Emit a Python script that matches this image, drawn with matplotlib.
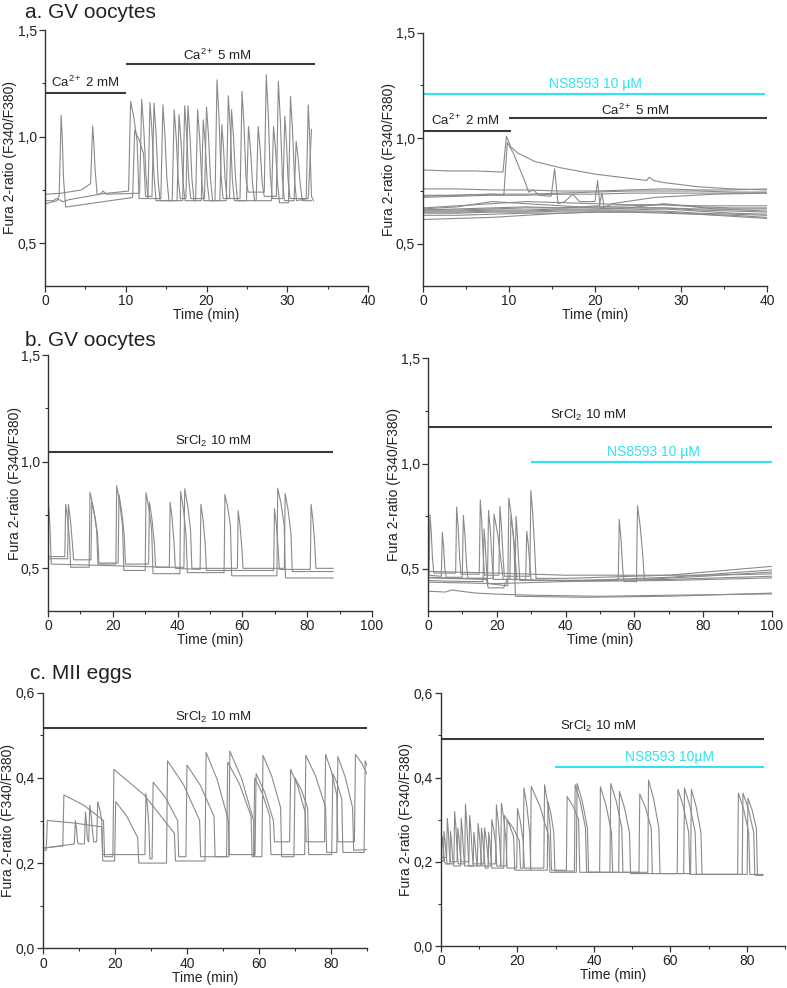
import matplotlib
matplotlib.use("Agg")
import matplotlib.pyplot as plt
from matplotlib.ticker import MultipleLocator, FuncFormatter

plt.rcParams["font.family"] = ["Liberation Sans", "DejaVu Sans"]
plt.rcParams["mathtext.fontset"] = "custom"
plt.rcParams["mathtext.rm"] = "Liberation Sans"
plt.rcParams["mathtext.it"] = "Liberation Sans:italic"

TRACE_C = "#8a8a8a"
BAR_C = "#3a3a3a"
CYAN = "#2de4f0"

# ---------------------------------------------------------------------------
# data
# each event: (peak time, peak value, time before drop, value before drop)
# base: resting level between events (tuple = start, end of that stretch)
# ---------------------------------------------------------------------------

# a. GV oocytes, left (Ca2+ 2 mM -> 5 mM)
al_A_lead = [(0, 0.73), (2.0, 0.735), (4.5, 0.75)]
al_A_ev = [(5.9, 1.05, 6.2, 0.85), (10.6, 1.165, 11.4, 0.98), (13.0, 1.16, 13.5, 0.82),
           (16.0, 1.126, 16.5, 0.80), (17.7, 1.145, 18.2, 0.80), (18.9, 1.126, 19.4, 0.80),
           (21.3, 1.266, 21.8, 0.82), (24.4, 1.212, 24.9, 0.80), (27.4, 1.29, 27.9, 0.82),
           (29.7, 1.095, 30.1, 0.80), (32.6, 1.149, 33.0, 0.72)]
al_A_base = [0.78, (0.73, 0.745), 0.71, 0.70, 0.71, 0.70, 0.70, 0.71, 0.74, 0.71, 0.71, 0.70]
al_A_tail = []

al_B_lead = [(0, 0.685), (1.5, 0.70)]
al_B_ev = [(2.0, 1.10, 2.3, 0.80), (11.1, 1.03, 12.2, 0.92), (13.5, 1.157, 14.0, 0.80),
           (16.6, 1.103, 17.1, 0.78), (19.6, 1.079, 20.1, 0.78), (22.7, 1.192, 23.2, 0.80),
           (25.2, 1.048, 25.7, 0.78), (28.3, 1.048, 28.8, 0.78), (30.4, 1.189, 30.9, 0.80)]
al_B_base = [0.72, (0.67, 0.715), 0.72, 0.70, 0.70, 0.70, 0.70, 0.70, 0.69, 0.70]
al_B_tail = [(32.6, 0.71), (33.0, 1.033)]

al_C_lead = [(0, 0.70), (1.0, 0.70), (1.5, 0.71), (2.2, 0.695), (3.0, 0.705),
             (6.8, 0.73), (7.2, 0.745), (7.6, 0.73)]
al_C_ev = [(11.97, 1.176, 12.5, 0.82), (14.6, 1.149, 15.1, 0.80), (17.3, 1.145, 17.8, 0.80),
           (20.0, 1.139, 20.5, 0.80), (21.9, 1.056, 22.3, 0.80), (23.1, 1.126, 23.6, 0.80),
           (26.4, 1.048, 26.9, 0.78), (28.9, 1.259, 29.4, 0.80), (31.1, 0.978, 31.6, 0.78)]
al_C_base = [0.735, 0.71, 0.70, 0.71, 0.70, 0.71, 0.70, 0.72, 0.70, 0.70]
al_C_tail = [(33.0, 0.70)]

# a. GV oocytes, right (NS8593 10 uM)
ar_grid = [0, 4, 8, 12, 16, 20, 24, 28, 32, 36, 40]
ar_flat = [
    [0.76, 0.76, 0.755, 0.755, 0.75, 0.75, 0.755, 0.76, 0.755, 0.755, 0.76],
    [0.72, 0.725, 0.73, 0.73, 0.735, 0.735, 0.74, 0.74, 0.74, 0.74, 0.74],
    [0.73, 0.73, 0.735, 0.735, 0.74, 0.745, 0.75, 0.75, 0.75, 0.745, 0.745],
    [0.665, 0.675, 0.70, 0.69, 0.68, 0.67, 0.67, 0.67, 0.665, 0.665, 0.665],
    [0.66, 0.66, 0.665, 0.67, 0.67, 0.675, 0.68, 0.685, 0.675, 0.67, 0.67],
    [0.655, 0.655, 0.66, 0.66, 0.665, 0.665, 0.67, 0.67, 0.66, 0.655, 0.65],
    [0.65, 0.65, 0.655, 0.655, 0.66, 0.66, 0.66, 0.665, 0.655, 0.645, 0.64],
    [0.645, 0.645, 0.65, 0.65, 0.655, 0.655, 0.655, 0.655, 0.645, 0.64, 0.635],
    [0.635, 0.635, 0.64, 0.645, 0.645, 0.65, 0.65, 0.65, 0.64, 0.635, 0.625],
    [0.615, 0.62, 0.625, 0.635, 0.645, 0.65, 0.65, 0.645, 0.64, 0.63, 0.62],
    [0.67, 0.68, 0.69, 0.70, 0.695, 0.69, 0.685, 0.685, 0.68, 0.68, 0.68],
]
ar_s1_t = [0, 3, 6, 9.3, 9.7, 10.2, 11, 13, 16, 20, 24, 26, 26.3, 26.8, 28, 32, 36, 40]
ar_s1_v = [0.85, 0.845, 0.845, 0.84, 1.01, 0.96, 0.93, 0.89, 0.86, 0.83, 0.81, 0.80,
           0.815, 0.80, 0.79, 0.77, 0.76, 0.755]
ar_s2_t = [0, 4, 8, 9.4, 9.8, 10.5, 11.8, 12.3, 12.8, 13.5, 14.9, 15.3, 15.7, 16.5,
           17.4, 18.2, 20.0, 20.3, 20.6, 22, 27, 34, 40]
ar_s2_v = [0.725, 0.73, 0.735, 0.73, 0.98, 0.93, 0.80, 0.745, 0.755, 0.73, 0.725, 0.855,
           0.69, 0.70, 0.735, 0.70, 0.70, 0.80, 0.665, 0.69, 0.72, 0.735, 0.74]
ar_s3_t = [0, 8, 12, 16, 20.5, 20.8, 21.1, 24, 28, 34, 40]
ar_s3_v = [0.66, 0.67, 0.675, 0.67, 0.68, 0.74, 0.665, 0.67, 0.69, 0.665, 0.655]

# b. GV oocytes, left (SrCl2 10 mM)
bl_X_lead = [(0, 0.555)]
bl_X_ev = [(5.45, 0.80, 6.6, 0.64), (12.96, 0.857, 15.0, 0.68), (21.2, 0.888, 23.0, 0.70),
           (30.25, 0.854, 32.0, 0.68), (40.95, 0.86, 42.6, 0.66), (54.6, 0.846, 56.3, 0.70),
           (70.9, 0.876, 72.9, 0.70)]
bl_X_base = [0.555, 0.505, 0.52, 0.49, 0.475, 0.48, 0.465, 0.455]
bl_X_tail = [(88, 0.455)]

bl_Y_lead = [(0, 0.545)]
bl_Y_ev = [(6.3, 0.80, 7.5, 0.62), (13.5, 0.81, 15.3, 0.66), (21.9, 0.846, 23.5, 0.66),
           (31.3, 0.81, 32.8, 0.62), (42.2, 0.873, 44.0, 0.68), (58.7, 0.77, 59.8, 0.60),
           (73.2, 0.85, 75.0, 0.66)]
bl_Y_base = [0.545, 0.54, 0.525, 0.52, 0.505, 0.50, 0.50, 0.485]
bl_Y_tail = [(88, 0.485)]

bl_Z_lead = []
bl_Z_ev = [(0.0, 0.82, 0.6, 0.70), (37.7, 0.81, 38.9, 0.62), (47.2, 0.80, 48.5, 0.62),
           (69.9, 0.78, 71.0, 0.60), (81.2, 0.80, 82.3, 0.62)]
bl_Z_base = [0.80, (0.52, 0.505), (0.50, 0.495), 0.49, 0.495, 0.50]
bl_Z_tail = [(88, 0.50)]

# b. GV oocytes, right (SrCl2 + NS8593)
br_T1_lead = [(0, 0.475)]
br_T1_ev = [(0.58, 0.757, 1.3, 0.55), (8.33, 0.794, 9.2, 0.55), (15.2, 0.828, 16.0, 0.58),
            (20.9, 0.796, 21.8, 0.56), (29.9, 0.872, 31.0, 0.60)]
br_T1_base = [0.475, 0.48, 0.475, 0.47, 0.465, 0.455]
br_T1_tail = [(40, 0.455), (70, 0.47), (100, 0.512)]

br_T2_lead = [(0, 0.47)]
br_T2_ev = [(4.17, 0.673, 4.9, 0.50), (10.27, 0.754, 11.2, 0.52), (17.6, 0.778, 18.6, 0.55),
            (24.1, 0.752, 25.4, 0.55), (28.7, 0.678, 29.6, 0.52)]
br_T2_base = [0.465, 0.46, 0.455, 0.45, 0.45, 0.445]
br_T2_tail = [(45, 0.445), (70, 0.46), (100, 0.495)]

br_T3_lead = [(0, 0.445), (10, 0.44)]
br_T3_ev = [(16.3, 0.689, 17.0, 0.50), (23.5, 0.836, 25.0, 0.62)]
br_T3_base = [0.44, (0.43, 0.42), 0.37]
br_T3_tail = [(45, 0.365), (70, 0.37), (100, 0.385)]

br_T4_lead = [(0, 0.46), (10, 0.455)]
br_T4_ev = [(19.2, 0.76, 21.5, 0.50), (25.6, 0.75, 26.3, 0.55), (55.6, 0.735, 56.6, 0.50),
            (60.9, 0.80, 62.5, 0.55)]
br_T4_base = [0.455, 0.45, 0.445, 0.44, 0.45]
br_T4_tail = [(80, 0.465), (100, 0.485)]

br_flat = [
    [(0, 0.488), (20, 0.48), (40, 0.47), (60, 0.47), (80, 0.47), (100, 0.476)],
    [(0, 0.394), (5, 0.39), (7, 0.40), (9, 0.395), (14, 0.385), (20, 0.38), (30, 0.375),
     (50, 0.37), (70, 0.375), (100, 0.381)],
    [(0, 0.457), (17, 0.45), (17.5, 0.41), (22, 0.41), (23, 0.45), (40, 0.445),
     (70, 0.45), (100, 0.465)],
    [(0, 0.437), (20, 0.43), (40, 0.44), (70, 0.445), (100, 0.457)],
]

# c. MII eggs, left (SrCl2 10 mM)
cl_A_lead = [(0, 0.235), (5.0, 0.24)]
cl_A_ev = [(5.8, 0.36, 16.8, 0.30), (19.7, 0.42, 36.5, 0.27), (45.3, 0.46, 51.5, 0.30),
           (59.2, 0.41, 64.0, 0.30), (68.8, 0.42, 72.8, 0.32), (78.5, 0.455, 81.6, 0.36),
           (86.8, 0.455, 90.5, 0.40)]
cl_A_base = [0.24, 0.215, 0.205, 0.22, 0.25, 0.25, 0.25, 0.25]
cl_A_tail = []

cl_B_lead = [(0, 0.23), (0.9, 0.23)]
cl_B_ev = [(1.2, 0.30, 16.3, 0.285), (20.2, 0.344, 26.3, 0.26), (34.6, 0.44, 43.5, 0.30),
           (51.9, 0.463, 58.5, 0.30), (61.1, 0.453, 66.0, 0.33), (70.0, 0.40, 73.5, 0.33),
           (80.5, 0.41, 83.0, 0.35), (89.5, 0.44, 91.0, 0.40)]
cl_B_base = [0.23, 0.205, 0.20, 0.215, 0.215, 0.215, 0.22, 0.225, 0.23]
cl_B_tail = []

cl_C_lead = [(0, 0.235), (8.7, 0.245)]
cl_C_ev = [(9.0, 0.30, 9.6, 0.25), (11.8, 0.32, 12.3, 0.26), (13.0, 0.336, 13.8, 0.27),
           (15.2, 0.344, 16.3, 0.30), (28.6, 0.364, 29.4, 0.29), (30.6, 0.39, 37.4, 0.30),
           (40.0, 0.43, 47.5, 0.31), (51.3, 0.437, 57.8, 0.31), (58.8, 0.40, 63.0, 0.31),
           (73.0, 0.453, 78.5, 0.33), (81.9, 0.45, 86.0, 0.33)]
cl_C_base = [0.245, 0.245, 0.25, 0.25, 0.22, 0.21, 0.215, 0.215, 0.215, 0.22, 0.225, 0.23]
cl_C_tail = [(90, 0.232)]

# c. MII eggs, right (SrCl2 + NS8593)
cr_P_lead = [(0, 0.205)]
cr_P_ev = [(0.78, 0.272, 1.3, 0.22), (3.57, 0.319, 4.2, 0.23), (6.4, 0.337, 7.0, 0.24),
           (9.7, 0.291, 10.4, 0.22), (13.3, 0.30, 14.3, 0.24), (15.8, 0.339, 17.0, 0.25),
           (20.0, 0.327, 21.5, 0.25), (27.1, 0.383, 28.6, 0.28), (33.0, 0.355, 36.0, 0.30),
           (41.7, 0.378, 44.6, 0.27), (52.0, 0.361, 55.0, 0.28), (62.0, 0.372, 64.8, 0.27),
           (77.8, 0.363, 80.5, 0.27)]
cr_P_base = [0.20, 0.195, 0.195, 0.19, 0.19, 0.19, 0.185, 0.185, 0.18, 0.175, 0.175,
             0.172, 0.17, 0.17]
cr_P_tail = [(84.2, 0.17)]

cr_Q_lead = [(0, 0.21)]
cr_Q_ev = [(1.66, 0.303, 2.2, 0.22), (4.4, 0.28, 5.0, 0.22), (7.5, 0.31, 8.1, 0.23),
           (11.4, 0.28, 12.2, 0.22), (14.5, 0.335, 15.4, 0.24), (17.3, 0.30, 20.5, 0.25),
           (21.7, 0.375, 23.2, 0.27), (28.0, 0.343, 29.5, 0.27), (35.1, 0.383, 37.8, 0.28),
           (44.4, 0.386, 47.3, 0.28), (54.3, 0.394, 57.0, 0.28), (63.7, 0.375, 66.5, 0.27),
           (79.0, 0.363, 81.8, 0.27)]
cr_Q_base = [0.21, 0.20, 0.20, 0.195, 0.195, 0.19, 0.185, 0.18, 0.178, 0.175, 0.175,
             0.172, 0.17, 0.168]
cr_Q_tail = [(84.2, 0.168)]

cr_R_lead = []
cr_R_ev = [(0.3, 0.26, 0.8, 0.21), (2.5, 0.272, 3.0, 0.21), (5.3, 0.303, 5.9, 0.22),
           (8.6, 0.27, 9.2, 0.21), (10.6, 0.28, 11.3, 0.21), (12.5, 0.27, 13.0, 0.22),
           (16.6, 0.31, 19.0, 0.26), (23.6, 0.379, 28.2, 0.26), (35.6, 0.386, 38.3, 0.28),
           (46.7, 0.367, 49.3, 0.27), (65.5, 0.372, 68.0, 0.27), (80.3, 0.351, 82.5, 0.28)]
cr_R_base = [0.20, 0.195, 0.19, 0.19, 0.19, 0.185, 0.185, 0.18, 0.175, 0.175, 0.172,
             0.17, 0.168]
cr_R_tail = [(84.2, 0.168)]


def level(b, end):
    if isinstance(b, tuple):
        return b[1] if end else b[0]
    return b


def build(lead, ev, base, tail, rise, fall):
    ts = [p[0] for p in lead]
    vs = [p[1] for p in lead]
    for i, (tp, pk, te, ve) in enumerate(ev):
        ts += [tp - rise, tp, (tp + te) / 2, te, te + fall]
        vs += [level(base[i], True), pk, pk - 0.4 * (pk - ve), ve, level(base[i + 1], False)]
    ts += [p[0] for p in tail]
    vs += [p[1] for p in tail]
    return ts, vs


def comma(v, pos):
    return f"{v:.1f}".replace(".", ",")


def style(ax, xlim, xmaj, ylim, ymaj, lab_x):
    ax.set_xlim(*xlim)
    ax.set_ylim(*ylim)
    ax.xaxis.set_major_locator(MultipleLocator(xmaj))
    ax.xaxis.set_minor_locator(MultipleLocator(xmaj / 2))
    ax.yaxis.set_major_locator(MultipleLocator(ymaj))
    ax.yaxis.set_minor_locator(MultipleLocator(ymaj / 2))
    ax.yaxis.set_major_formatter(FuncFormatter(comma))
    ax.xaxis.set_major_formatter(FuncFormatter(lambda v, p: f"{v:.0f}"))
    for s in ("top", "right"):
        ax.spines[s].set_visible(False)
    for s in ("left", "bottom"):
        ax.spines[s].set_color("#333333")
        ax.spines[s].set_linewidth(1.0)
    ax.tick_params(which="major", direction="out", length=4, width=0.9,
                   labelsize=10, colors="#333333", labelcolor="#222222", pad=2)
    ax.tick_params(which="minor", direction="out", length=2.5, width=0.8, colors="#333333")
    ax.set_xlabel("Time (min)", fontsize=10, labelpad=0, color="#222222")
    ax.set_ylabel("Fura 2-ratio (F340/F380)", fontsize=10, color="#222222")
    ax.yaxis.set_label_coords(lab_x, 0.5)


def bar(ax, x0, x1, y, text, tx, ty, color=BAR_C):
    ax.plot([x0, x1], [y, y], color=color, lw=1.5, solid_capstyle="butt", clip_on=False)
    ax.text(tx, ty, text, color=color if color == CYAN else "#222222",
            fontsize=10 if color == CYAN else 9.5, ha="center", va="center")


def draw(ax, t, v):
    ax.plot(t, v, color=TRACE_C, lw=0.8)


W, H = 787, 988
fig = plt.figure(figsize=(W / 100, H / 100), dpi=100)


def add_axes(x0, x1, ytop, ybot):
    return fig.add_axes([x0 / W, 1 - ybot / H, (x1 - x0) / W, (ybot - ytop) / H])


# --- a left
ax = add_axes(45, 368, 30, 286)
for lead, ev, base, tail in [(al_A_lead, al_A_ev, al_A_base, al_A_tail),
                             (al_B_lead, al_B_ev, al_B_base, al_B_tail),
                             (al_C_lead, al_C_ev, al_C_base, al_C_tail)]:
    draw(ax, *build(lead, ev, base, tail, 0.25, 0.25))
style(ax, (0, 40), 10, (0.3, 1.5), 0.5, -0.087)
bar(ax, 0, 10, 1.207, "Ca$^{2+}$ 2 mM", 5.0, 1.254)
bar(ax, 10, 33.4, 1.34, "Ca$^{2+}$ 5 mM", 21.3, 1.383)

# --- a right
ax = add_axes(423, 767, 32.7, 286)
for vals in ar_flat:
    draw(ax, ar_grid, vals)
draw(ax, ar_s3_t, ar_s3_v)
draw(ax, ar_s2_t, ar_s2_v)
draw(ax, ar_s1_t, ar_s1_v)
style(ax, (0, 40), 10, (0.3, 1.5), 0.5, -0.078)
bar(ax, 0, 39.8, 1.208, "NS8593 10 µM", 20.0, 1.257, CYAN)
bar(ax, 10, 40, 1.094, "Ca$^{2+}$ 5 mM", 24.7, 1.13)
bar(ax, 0, 10.2, 1.036, "Ca$^{2+}$ 2 mM", 4.9, 1.086)

# --- b left
ax = add_axes(48, 372, 355, 611)
for lead, ev, base, tail in [(bl_X_lead, bl_X_ev, bl_X_base, bl_X_tail),
                             (bl_Y_lead, bl_Y_ev, bl_Y_base, bl_Y_tail),
                             (bl_Z_lead, bl_Z_ev, bl_Z_base, bl_Z_tail)]:
    draw(ax, *build(lead, ev, base, tail, 0.25, 0.4))
style(ax, (0, 100), 20, (0.3, 1.5), 0.5, -0.08)
bar(ax, 0, 88.1, 1.043, "SrCl$_2$ 10 mM", 51.0, 1.095)

# --- b right
ax = add_axes(428, 772, 358.3, 611)
for pts in br_flat:
    draw(ax, [p[0] for p in pts], [p[1] for p in pts])
for lead, ev, base, tail in [(br_T1_lead, br_T1_ev, br_T1_base, br_T1_tail),
                             (br_T2_lead, br_T2_ev, br_T2_base, br_T2_tail),
                             (br_T3_lead, br_T3_ev, br_T3_base, br_T3_tail),
                             (br_T4_lead, br_T4_ev, br_T4_base, br_T4_tail)]:
    draw(ax, *build(lead, ev, base, tail, 0.3, 0.4))
style(ax, (0, 100), 20, (0.3, 1.5), 0.5, -0.078)
bar(ax, 0, 100, 1.173, "SrCl$_2$ 10 mM", 46.5, 1.227)
bar(ax, 29.9, 100, 1.007, "NS8593 10 µM", 65.5, 1.057, CYAN)

# --- c left
ax = add_axes(43, 367, 692.7, 948.3)
for lead, ev, base, tail in [(cl_A_lead, cl_A_ev, cl_A_base, cl_A_tail),
                             (cl_B_lead, cl_B_ev, cl_B_base, cl_B_tail),
                             (cl_C_lead, cl_C_ev, cl_C_base, cl_C_tail)]:
    draw(ax, *build(lead, ev, base, tail, 0.3, 0.3))
style(ax, (0, 90), 20, (0, 0.6), 0.2, -0.087)
bar(ax, 0, 90, 0.518, "SrCl$_2$ 10 mM", 47.3, 0.542)

# --- c right
ax = add_axes(441, 785, 693.3, 946)
for lead, ev, base, tail in [(cr_P_lead, cr_P_ev, cr_P_base, cr_P_tail),
                             (cr_Q_lead, cr_Q_ev, cr_Q_base, cr_Q_tail),
                             (cr_R_lead, cr_R_ev, cr_R_base, cr_R_tail)]:
    draw(ax, *build(lead, ev, base, tail, 0.2, 0.3))
style(ax, (0, 90), 20, (0, 0.6), 0.2, -0.081)
bar(ax, 0, 84.4, 0.492, "SrCl$_2$ 10 mM", 41.1, 0.521)
bar(ax, 29.8, 84.5, 0.426, "NS8593 10µM", 59.9, 0.448, CYAN)

# panel titles
fig.text(25 / W, 1 - 13 / H, "a. GV oocytes", fontsize=15, va="center", color="#222222")
fig.text(25 / W, 1 - 340 / H, "b. GV oocytes", fontsize=15, va="center", color="#222222")
fig.text(30 / W, 1 - 673 / H, "c. MII eggs", fontsize=15, va="center", color="#222222")

fig.savefig("out.png", dpi=100)
